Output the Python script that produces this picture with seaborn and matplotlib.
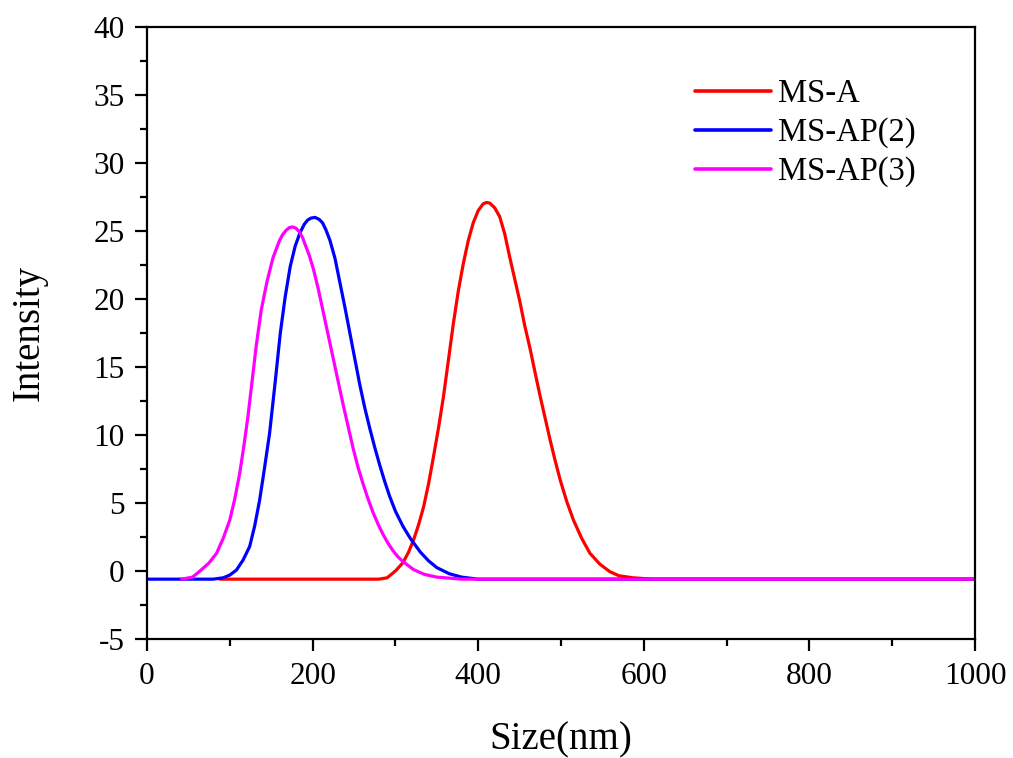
import numpy as np
import pandas as pd
import matplotlib
matplotlib.use("Agg")
import matplotlib.pyplot as plt
import seaborn as sns
from matplotlib.ticker import MultipleLocator

# ---- data ----
ms_a_x = [88, 200, 280, 290, 300, 309, 316, 322, 328, 334, 340, 346, 352, 358, 364, 370,
          376, 382, 388, 394, 400, 406, 410, 414, 420, 426, 432, 438, 444, 450, 456, 463,
          469, 475, 481, 487, 493, 499, 507, 515, 525, 535, 547, 559, 570, 587, 610, 800, 1000]
ms_a_y = [-0.6, -0.6, -0.6, -0.5, 0.0, 0.6, 1.4, 2.3, 3.4, 4.7, 6.4, 8.4, 10.5, 12.8, 15.5,
          18.2, 20.6, 22.6, 24.3, 25.6, 26.5, 27.0, 27.1, 27.05, 26.7, 26.05, 24.8, 23.1,
          21.5, 19.9, 18.1, 16.25, 14.5, 12.8, 11.2, 9.6, 8.1, 6.7, 5.1, 3.75, 2.4, 1.3, 0.5,
          -0.05, -0.35, -0.5, -0.6, -0.6, -0.6]

ms_ap2_x = [0, 40, 80, 92, 100, 108, 116, 124, 130, 136, 142, 148, 155, 161, 167, 173,
            179, 185, 190, 194, 198, 203, 208, 212, 216, 221, 227, 233, 239, 245, 251, 257,
            263, 269, 275, 281, 287, 293, 300, 309, 318, 330, 340, 350, 365, 380, 400, 700, 1000]
ms_ap2_y = [-0.6, -0.6, -0.6, -0.5, -0.3, 0.07, 0.8, 1.8, 3.3, 5.2, 7.6, 10.1, 14.0, 17.5,
            20.2, 22.4, 23.9, 24.9, 25.5, 25.8, 25.95, 26.0, 25.85, 25.6, 25.1, 24.3, 23.0,
            21.2, 19.4, 17.5, 15.6, 13.7, 12.0, 10.5, 9.1, 7.8, 6.6, 5.5, 4.4, 3.3, 2.4, 1.4,
            0.75, 0.25, -0.2, -0.45, -0.6, -0.6, -0.6]

ms_ap3_x = [42, 55, 64, 75, 84, 92, 100, 106, 112, 117, 122, 127, 132, 138, 145, 152,
            160, 164, 168, 172, 176, 180, 184, 188, 191, 196, 201, 207, 213, 219, 225, 231,
            237, 243, 249, 255, 261, 267, 273, 279, 285, 291, 297, 303, 309, 322, 335, 350,
            380, 700, 1000]
ms_ap3_y = [-0.6, -0.45, 0.0, 0.6, 1.3, 2.4, 3.75, 5.3, 7.2, 9.2, 11.4, 14.0, 16.6, 19.2,
            21.3, 23.0, 24.3, 24.75, 25.05, 25.25, 25.3, 25.2, 24.95, 24.5, 24.0, 23.2, 22.2,
            20.7, 19.0, 17.3, 15.6, 13.9, 12.2, 10.6, 9.0, 7.6, 6.4, 5.3, 4.3, 3.45, 2.7,
            2.05, 1.5, 1.05, 0.7, 0.1, -0.25, -0.45, -0.6, -0.6, -0.6]

series_names = ["MS-A", "MS-AP(2)", "MS-AP(3)"]
colors = ["#FF0000", "#0000FF", "#FF00FF"]

df = pd.concat([
    pd.DataFrame({"Size": ms_a_x, "Intensity": ms_a_y, "Sample": series_names[0]}),
    pd.DataFrame({"Size": ms_ap2_x, "Intensity": ms_ap2_y, "Sample": series_names[1]}),
    pd.DataFrame({"Size": ms_ap3_x, "Intensity": ms_ap3_y, "Sample": series_names[2]}),
], ignore_index=True)

sns.set_style("ticks")
plt.rcParams["font.family"] = ["Liberation Serif", "DejaVu Serif"]
plt.rcParams["axes.unicode_minus"] = False
plt.rcParams["text.color"] = "black"
plt.rcParams["axes.labelcolor"] = "black"
plt.rcParams["xtick.color"] = "black"
plt.rcParams["ytick.color"] = "black"

fig = plt.figure(figsize=(10.13, 7.58), dpi=100)
ax = fig.add_axes([147 / 1013, 1 - 639 / 758, (975 - 147) / 1013, (639 - 27) / 758])

sns.lineplot(data=df, x="Size", y="Intensity", hue="Sample", hue_order=series_names,
             palette=colors, estimator=None, sort=True, linewidth=2.3, ax=ax, legend=True)

ax.set_xlim(0, 1000)
ax.set_ylim(-5, 40)
ax.xaxis.set_major_locator(MultipleLocator(200))
ax.xaxis.set_minor_locator(MultipleLocator(100))
ax.yaxis.set_major_locator(MultipleLocator(5))
ax.yaxis.set_minor_locator(MultipleLocator(2.5))

for s in ax.spines.values():
    s.set_visible(True)
    s.set_linewidth(1.6)
    s.set_color("black")

ax.tick_params(axis="both", which="major", direction="out", length=8.6, width=1.6,
               labelsize=22.5, colors="black", labelcolor="black", top=False, right=False)
ax.tick_params(axis="both", which="minor", direction="out", length=5, width=1.6,
               colors="black", top=False, right=False)
ax.tick_params(axis="x", which="major", pad=8)
ax.tick_params(axis="y", which="major", pad=7.5)

ax.set_xlabel("Size(nm)", fontsize=28, labelpad=22, color="black")
ax.set_ylabel("Intensity", fontsize=28, labelpad=33, color="black")

handles, labels = ax.get_legend_handles_labels()
leg = ax.legend(handles, labels, loc="upper left",
                bbox_to_anchor=((695 - 147) / 828, (639 - 79) / 612),
                frameon=False, fontsize=23.5, handlelength=2.33, handletextpad=0.2,
                labelspacing=0.25, borderpad=0, borderaxespad=0)
for line in leg.get_lines():
    line.set_linewidth(2.6)
for t in leg.get_texts():
    t.set_color("black")

fig.savefig("out.png", dpi=100, facecolor="white")
